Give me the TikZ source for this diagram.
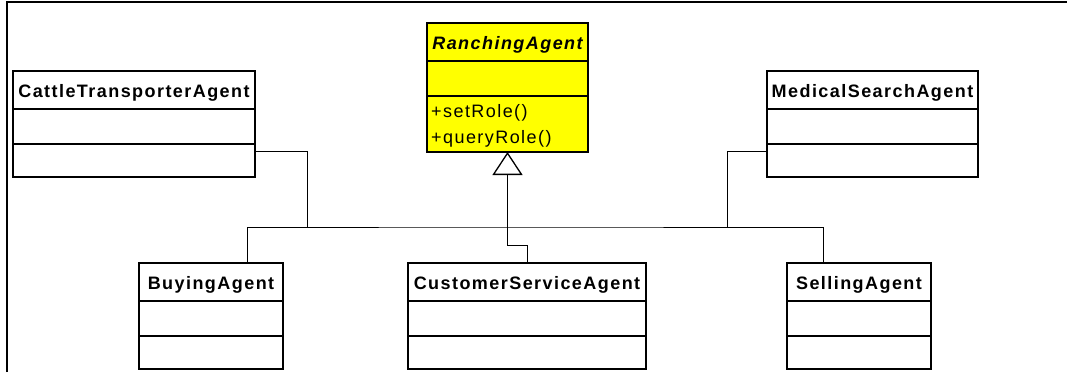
\documentclass[tikz,border=0pt]{standalone}
\usepackage{fontspec}
\setmainfont{Liberation Sans}[LetterSpace=8]
\usetikzlibrary{arrows.meta,positioning,calc}
\tikzset{
	classbox/.style={draw, line width=1.6pt, inner sep=0, outer sep=0, anchor=north west, fill=white},
	classname/.style={font=\fontsize{18}{21}\selectfont\bfseries, anchor=base, inner sep=0},
	opname/.style={font=\fontsize{18}{21}\selectfont, anchor=base west, inner sep=0},
	assoc/.style={line width=1pt},
	genarrow/.style={line width=1pt, -{Triangle[open, width=30pt, length=23pt, line width=1.3pt]}}
}
\definecolor{abstractColor}{HTML}{FFFF00}
\newcommand{\umlclass}[6][white]{%
	\node[classbox, fill=#1, minimum width=#4, minimum height=#5] (#2) at #3 {};
	\node[classname] at ($(#2.north)+(0,26)$) {#6};
	\draw[line width=1.6pt] ($(#2.north west)+(0,38)$) -- ($(#2.north east)+(0,38)$);
	\draw[line width=1.6pt] ($(#2.north west)+(0,73)$) -- ($(#2.north east)+(0,73)$);
}

\begin{document}
\begin{tikzpicture}[x=1pt, y=-1pt]
	\useasboundingbox (0,0) rectangle (1067,372);
	\draw[line width=2pt] (7,372) -- (7,2) -- (1067,2);
	
	\umlclass[abstractColor]{ranching}{(427,23)}{161pt}{129pt}{\itshape RanchingAgent}
	\node[opname] (setrole) at (431,117) {+setRole()};
	\node[opname] (queryrole) at (431,143) {+queryRole()};
	
	\umlclass{cattle}{(13,71)}{242pt}{106pt}{CattleTransporterAgent}
	\umlclass{medical}{(767,71)}{211pt}{106pt}{MedicalSearchAgent}
	\umlclass{buying}{(139,263)}{144pt}{106pt}{BuyingAgent}
	\umlclass{customer}{(408,263)}{238pt}{106pt}{CustomerServiceAgent}
	\umlclass{selling}{(787,263)}{144pt}{106pt}{SellingAgent}
	
	\coordinate (hub) at (507,227);
	\coordinate (hubL) at (307,227);
	\coordinate (hubR) at (727,227);
	
	\draw[genarrow] (customer.north) -- ++(0,-18) -| (ranching.south);
	\draw[assoc] ([xshift=36pt]buying.north) |- (hub) -| ([xshift=-36pt]selling.north);
	\draw[assoc] ([yshift=-27pt]cattle.east) -| (hubL);
	\draw[assoc] ([yshift=-27pt]medical.west) -| (hubR);
\end{tikzpicture}
\end{document}
